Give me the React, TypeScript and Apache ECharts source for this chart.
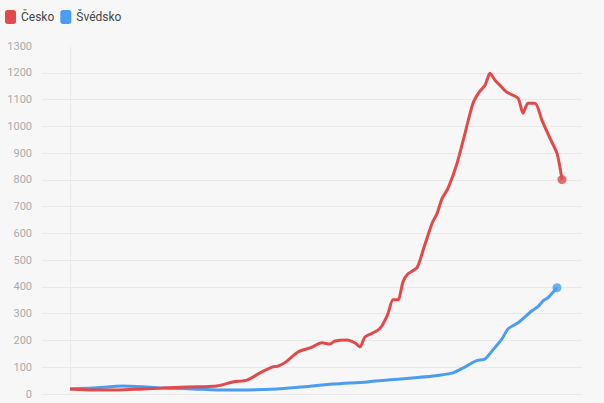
import React, { useEffect, useRef } from "react";
import * as echarts from "echarts";

const czDays = [0, 11.5, 23.5, 36.5, 46.5, 58.5, 73.5, 81.5, 88.5, 95, 101.5, 104, 108, 114, 120, 126, 130, 132.5, 138.5, 142.5, 145, 147.5, 153.5, 156, 159, 161.5, 164, 166.5, 169, 173.5, 176.5, 181, 183.5, 186, 189, 193.5, 197.5, 201.5, 204.5, 207.5, 210, 212.5, 215, 218.5, 224, 226.5, 229, 232.5, 236, 240, 243.5, 246];
const czCases = [19, 15, 15, 19, 22, 26, 30, 45, 52, 79, 101, 104, 120, 157, 172, 191, 187, 198, 202, 191, 176, 213, 236, 255, 300, 352, 352, 419, 449, 472, 536, 637, 674, 730, 768, 861, 974, 1086, 1127, 1153, 1198, 1172, 1153, 1127, 1105, 1049, 1086, 1086, 1022, 955, 899, 801];

const seDays = [0, 11.5, 26.5, 38.5, 46.5, 61.5, 73.5, 86.5, 103.5, 115, 131.5, 148.5, 165, 181.5, 191.5, 196.5, 203, 207.5, 211.5, 216, 219, 224, 231, 234, 236.5, 239, 243.5];
const seCases = [19, 22, 30, 26, 22, 19, 15, 15, 19, 26, 37, 45, 56, 67, 79, 97, 124, 131, 165, 206, 243, 266, 311, 326, 348, 360, 397];

const yTicks = [0, 100, 200, 300, 400, 500, 600, 700, 800, 900, 1000, 1100, 1200, 1300];

const seriesNames = ["Česko", "Švédsko"];
const seriesColors = ["#e24a4a", "#4a9df2"];

export default function App() {
  const ref = useRef<HTMLDivElement>(null);
  useEffect(() => {
    if (!ref.current) return;
    const chart = echarts.init(ref.current, undefined, { renderer: "svg" });
    const cz = czDays.map((d, i) => [d, czCases[i]]);
    const se = seDays.map((d, i) => [d, seCases[i]]);
    const splitColors = yTicks.map((t, i) => (i === yTicks.length - 1 ? "rgba(0,0,0,0)" : "#e9e9e9"));
    chart.setOption({
      animation: false,
      backgroundColor: "#f7f7f7",
      textStyle: { fontFamily: "Roboto" },
      legend: {
        data: seriesNames,
        left: 5,
        top: 10,
        padding: 0,
        icon: "roundRect",
        itemWidth: 11,
        itemHeight: 14,
        itemGap: 6,
        textStyle: { color: "#444", fontSize: 12, fontFamily: "Roboto" },
      },
      grid: { left: 42, right: 22, top: 46, bottom: 9, containLabel: false },
      xAxis: {
        type: "value",
        min: -14,
        max: 256,
        show: false,
        splitLine: { show: false },
      },
      yAxis: {
        type: "value",
        min: 0,
        max: 1300,
        interval: 100,
        axisLine: { show: true, lineStyle: { color: "#ececec" } },
        axisTick: { show: false },
        axisLabel: {
          color: "#aaa",
          fontSize: 11,
          margin: 10,
          fontFamily: "Roboto",
          formatter: (v: number) => String(v),
        },
        splitLine: { show: true, lineStyle: { color: splitColors, width: 1 } },
      },
      series: [
        {
          name: seriesNames[0],
          type: "line",
          data: cz,
          showSymbol: false,
          symbol: "none",
          smooth: 0.25,
          lineStyle: { color: seriesColors[0], width: 3 },
          itemStyle: { color: seriesColors[0] },
          z: 3,
        },
        {
          name: seriesNames[1],
          type: "line",
          data: se,
          showSymbol: false,
          symbol: "none",
          smooth: 0.25,
          lineStyle: { color: seriesColors[1], width: 3 },
          itemStyle: { color: seriesColors[1] },
          z: 2,
        },
        {
          name: seriesNames[0] + " end",
          type: "scatter",
          data: [cz[cz.length - 1]],
          symbol: "circle",
          symbolSize: 9,
          itemStyle: { color: seriesColors[0] },
          z: 4,
        },
        {
          name: seriesNames[1] + " end",
          type: "scatter",
          data: [se[se.length - 1]],
          symbol: "circle",
          symbolSize: 9,
          itemStyle: { color: seriesColors[1] },
          z: 4,
        },
      ],
    });
    return () => chart.dispose();
  }, []);
  return (
    <div
      ref={ref}
      style={{ position: "fixed", left: 0, top: 0, width: 604, height: 403 }}
    />
  );
}
